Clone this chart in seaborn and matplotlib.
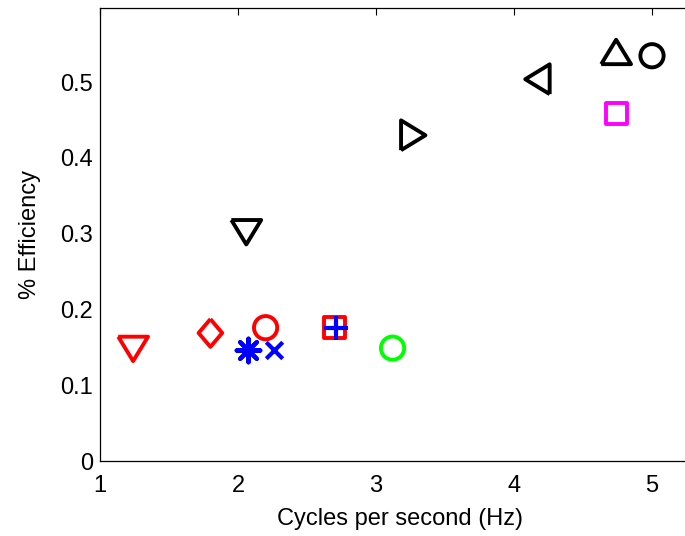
import matplotlib
matplotlib.use("Agg")
import matplotlib.pyplot as plt
import seaborn as sns

# Data
freq = [1.24, 1.80, 2.20, 2.07, 2.26, 2.70, 2.71, 3.12, 2.06, 3.27, 4.17, 4.74, 5.00, 4.74]
eff = [0.148, 0.169, 0.176, 0.147, 0.147, 0.176, 0.176, 0.149, 0.302, 0.430, 0.504, 0.540, 0.535, 0.459]
marker_names = ["down", "diamond", "circle", "star", "x", "square", "plus", "circle",
                "down", "right", "left", "up", "circle", "square"]
point_colors = ["#ff0000", "#ff0000", "#ff0000", "#0000ff", "#0000ff", "#ff0000", "#0000ff",
                "#00ff00", "#000000", "#000000", "#000000", "#000000", "#000000", "#ff00ff"]

x_ticks = [1, 2, 3, 4, 5]
y_ticks = [0, 0.1, 0.2, 0.3, 0.4, 0.5]
y_tick_labels = ["0", "0.1", "0.2", "0.3", "0.4", "0.5"]

sns.set_style("white")
plt.rcParams["font.family"] = ["Liberation Sans", "DejaVu Sans"]
plt.rcParams["text.color"] = "black"
plt.rcParams["axes.labelcolor"] = "black"

# marker shapes (MATLAB-like triangles are wider than tall)
h = 0.82
marker_defs = {
    "down": ([(-1, h), (1, h), (0, -h), (-1, h)], 460, True),
    "up": ([(-1, -h), (1, -h), (0, h), (-1, -h)], 460, True),
    "right": ([(-h, -1), (-h, 1), (h, 0), (-h, -1)], 460, True),
    "left": ([(h, -1), (h, 1), (-h, 0), (h, -1)], 460, True),
    "diamond": ([(0, 1), (0.85, 0), (0, -1), (-0.85, 0), (0, 1)], 400, True),
    "circle": ("o", 280, True),
    "square": ("s", 230, True),
    "star": ((8, 2, 0), 290, False),
    "x": ("x", 140, False),
    "plus": ("+", 290, False),
}

fig = plt.figure(figsize=(6.85, 5.36), dpi=100)
ax = fig.add_axes([100 / 685, 75 / 536, 600 / 685, 453 / 536])

for xi, yi, mn, col in zip(freq, eff, marker_names, point_colors):
    mk, s, filled = marker_defs[mn]
    if filled:
        sns.scatterplot(x=[xi], y=[yi], marker=mk, s=s, facecolor="none",
                        edgecolor=col, linewidth=2.8, ax=ax, zorder=3)
    else:
        sns.scatterplot(x=[xi], y=[yi], marker=mk, s=s, color=col,
                        linewidth=3.0, ax=ax, zorder=4)

ax.set_xlim(1, 1 + 600 / 138)
ax.set_ylim(0, 453 / 757.5)
ax.set_xticks(x_ticks)
ax.set_xticklabels([str(t) for t in x_ticks])
ax.set_yticks(y_ticks)
ax.set_yticklabels(y_tick_labels)
ax.tick_params(direction="in", length=5, width=0.8, labelsize=17, colors="black",
               top=True, right=True)
ax.tick_params(axis="x", pad=10)
ax.tick_params(axis="y", pad=5)
for sp in ax.spines.values():
    sp.set_color("black")
    sp.set_linewidth(0.9)
ax.set_xlabel("Cycles per second (Hz)", fontsize=17, labelpad=8, color="black")
ax.set_ylabel("% Efficiency", fontsize=17, labelpad=14, color="black")

fig.savefig("out.png", dpi=100)
